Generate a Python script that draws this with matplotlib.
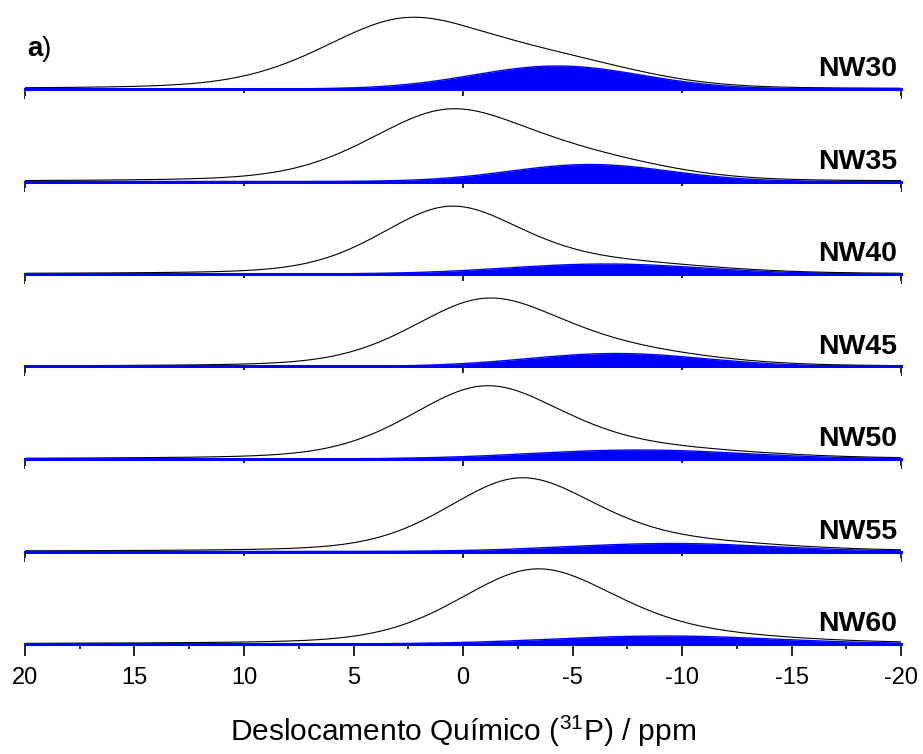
import numpy as np
import matplotlib
matplotlib.use("Agg")
import matplotlib.pyplot as plt

plt.rcParams['font.family'] = ['Liberation Sans', 'DejaVu Sans']
plt.rcParams['mathtext.fontset'] = 'custom'
plt.rcParams['mathtext.rm'] = 'Liberation Sans'
plt.rcParams['mathtext.it'] = 'Liberation Sans:italic'
plt.rcParams['mathtext.bf'] = 'Liberation Sans:bold'

# Samples, top to bottom
samples = ["NW30", "NW35", "NW40", "NW45", "NW50", "NW55", "NW60"]

# Main (dominant) 31P resonance: centre / ppm, FWHM / ppm, height, Lorentzian fraction
main_center = [2.7, 0.7, 0.6, -1.0, -1.0, -2.6, -3.3]
main_fwhm = [9.0, 8.6, 7.6, 8.0, 8.2, 8.0, 8.4]
main_height = [67.0, 69.0, 65.0, 64.0, 70.0, 71.0, 71.0]
main_eta = [0.3, 0.3, 0.3, 0.3, 0.3, 0.3, 0.3]

# Deconvoluted high-field component (filled): centre / ppm, FWHM / ppm, height
comp_center = [-4.3, -5.8, -6.5, -7.0, -8.0, -9.5, -9.2]
comp_fwhm = [9.0, 8.6, 10.5, 9.5, 11.5, 11.0, 12.0]
comp_height = [23.0, 17.0, 10.0, 13.0, 9.0, 8.0, 8.0]

x_min, x_max = -20.0, 20.0
major_ticks = [20, 15, 10, 5, 0, -5, -10, -15, -20]
minor_ticks = [17.5, 12.5, 7.5, 2.5, -2.5, -7.5, -12.5, -17.5]
xlabel = "Deslocamento Químico ($^{31}$P) / ppm"


def gauss(x, c, w):
    s = w / (2 * np.sqrt(2 * np.log(2)))
    return np.exp(-0.5 * ((x - c) / s) ** 2)


def lorentz(x, c, w):
    return 1.0 / (1.0 + ((x - c) / (w / 2)) ** 2)


def pvoigt(x, c, w, h, eta):
    return h * (eta * lorentz(x, c, w) + (1 - eta) * gauss(x, c, w))


W, H = 923, 754
fig = plt.figure(figsize=(W / 100, H / 100), dpi=100)

left_px, right_px = 25, 901
base0, step = 89, 92.5
panel_h = 86.0

x = np.linspace(x_min, x_max, 1200)

for i, name in enumerate(samples):
    base = base0 + i * step
    ax = fig.add_axes([left_px / W, 1 - base / H, (right_px - left_px) / W, panel_h / H])
    ax.set_xlim(x_max, x_min)
    ax.set_ylim(0, panel_h)
    for s in ("top", "left", "right"):
        ax.spines[s].set_visible(False)
    ax.spines["bottom"].set_linewidth(1.0)
    ax.set_yticks([])

    comp = pvoigt(x, comp_center[i], comp_fwhm[i], comp_height[i], 0.0)
    main = pvoigt(x, main_center[i], main_fwhm[i], main_height[i], main_eta[i])
    total = main + comp

    ax.fill_between(x, 0, comp, color="#0000ff", linewidth=0, zorder=2)
    ax.plot(x, comp, color="#0000ff", lw=1.0, zorder=2)
    ax.plot(x, total, color="black", lw=0.8, zorder=3)
    ax.axhline(0, color="#0000ff", lw=2.2, zorder=4, clip_on=False)

    ax.text(0.9955, 0.15, name, transform=ax.transAxes, ha="right", va="baseline",
            fontsize=20.5, fontweight="bold")

    last = i == len(samples) - 1
    if last:
        ax.set_xticks(major_ticks)
        ax.set_xticks(minor_ticks, minor=True)
        ax.set_xticklabels([str(t) for t in major_ticks])
        ax.tick_params(axis="x", which="major", direction="out", length=8.5, width=1.2,
                       labelsize=17, pad=8)
        ax.tick_params(axis="x", which="minor", direction="out", length=3.6, width=1.2)
    else:
        ax.set_xticks([20, 0, -20])
        ax.set_xticks([10, -10], minor=True)
        ax.set_xticklabels([])
        ax.tick_params(axis="x", which="major", direction="out", length=7.2, width=1.2)
        ax.tick_params(axis="x", which="minor", direction="out", length=3.0, width=1.2)

    if i == 0:
        t = ax.text(0.002, 0.38, "a", transform=ax.transAxes, fontsize=20,
                    fontweight="bold", ha="left", va="baseline")
        ax.annotate(")", xy=(1, 0), xycoords=t, fontsize=20, ha="left", va="bottom")

fig.text(463 / W, 1 - 741 / H, xlabel, fontsize=21.5, ha="center", va="baseline")

fig.savefig("out.png", dpi=100)
